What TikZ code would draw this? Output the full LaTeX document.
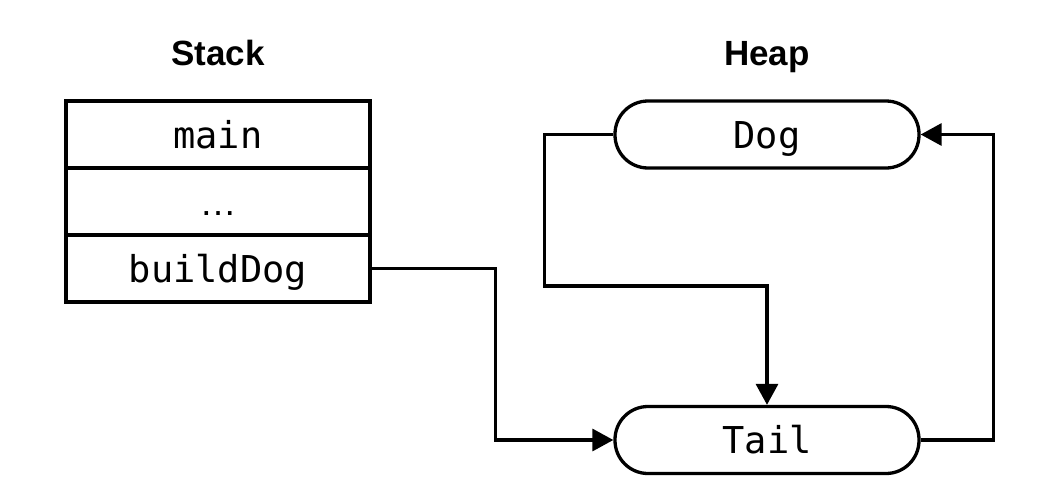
\documentclass[tikz,border=0pt]{standalone}
\usepackage{fontspec}
\setmainfont{Liberation Sans}
\newfontfamily\monof{DejaVu Sans Mono}
\usetikzlibrary{arrows.meta}
\tikzset{
  x=1pt, y=-1pt,
  rowbox/.style={draw, rectangle, line width=3.3pt, minimum width=304pt, minimum height=67pt,
    inner sep=0pt, text height=27pt, text depth=0pt, font=\monof\fontsize{37}{40}\selectfont},
  objbox/.style={rowbox, rounded corners=33pt},
  title/.style={anchor=base, inner sep=0pt, font=\bfseries\fontsize{35}{40}\selectfont},
  arr/.style={draw, line width=3.3pt, -{Triangle[length=21pt,width=22pt]}}
}
\begin{document}
\begin{tikzpicture}
\useasboundingbox (0,0) rectangle (1058,498);
\node[title] (stacktitle) at (218,65) {Stack};
\node[title] (heaptitle) at (767,65) {Heap};
\node[rowbox] (main) at (218,134.5) {main};
\node[rowbox] (dots) at (218,201.5) {\rmfamily …};
\node[rowbox] (bd) at (218,268.5) {buildDog};
\node[objbox] (dog) at (767,134.5) {Dog};
\node[objbox] (tail) at (767,440) {Tail};
\coordinate (mid) at (767,286);
\draw[arr] (bd.east) -- ++(124,0) |- (tail.west);
\draw[arr] (dog.west) -- ++(-69,0) |- (mid) -- (tail.north);
\draw[arr] (tail.east) -- ++(73,0) |- (dog.east);
\end{tikzpicture}
\end{document}
